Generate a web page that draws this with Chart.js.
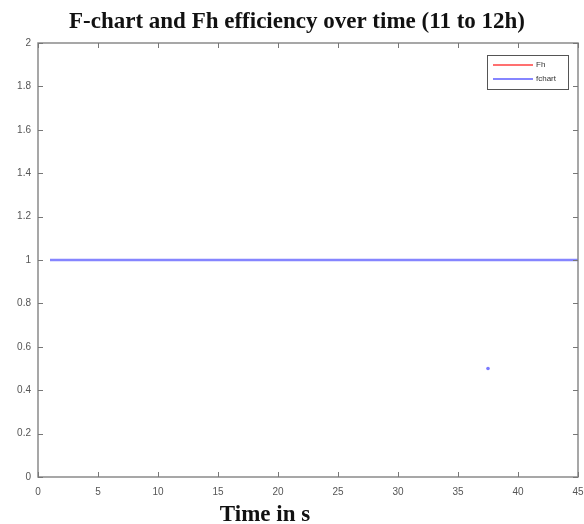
<!DOCTYPE html>
<html><head><meta charset="utf-8">
<script src="https://cdn.jsdelivr.net/npm/chart.js@4.4.1/dist/chart.umd.min.js"></script>
<style>html,body{margin:0;padding:0;background:#fff}#wrap{width:584px;height:524px}</style>
</head><body><div id="wrap"><canvas id="c" width="584" height="524"></canvas></div>
<script>
const chartTitle = 'F-chart and Fh efficiency over time (11 to 12h)';
const xAxisTitle = 'Time in s';
const timeS = [1, 45];
const fhValues = [1, 1];
const fchartValues = [1, 1];
const outlierTime = [37.5];
const outlierValues = [0.5];
const xTicks = [0,5,10,15,20,25,30,35,40,45];
const yTicks = [0,0.2,0.4,0.6,0.8,1,1.2,1.4,1.6,1.8,2];

const toPts = (xs, ys) => xs.map((x,i)=>({x, y: ys[i]}));

const boxPlugin = {
  id: 'boxTicks',
  afterDraw(chart) {
    const {ctx, chartArea: a, scales: {x, y}} = chart;
    ctx.save();
    ctx.strokeStyle = '#8a8a8a';
    ctx.lineWidth = 1.5;
    ctx.strokeRect(a.left, a.top, a.right - a.left, a.bottom - a.top);
    ctx.lineWidth = 1;
    ctx.strokeStyle = '#777';
    const L = 5;
    xTicks.forEach(v => {
      const px = Math.round(x.getPixelForValue(v)) + 0.5;
      ctx.beginPath(); ctx.moveTo(px, a.bottom); ctx.lineTo(px, a.bottom - L); ctx.stroke();
      ctx.beginPath(); ctx.moveTo(px, a.top); ctx.lineTo(px, a.top + L); ctx.stroke();
    });
    yTicks.forEach(v => {
      const py = Math.round(y.getPixelForValue(v)) + 0.5;
      ctx.beginPath(); ctx.moveTo(a.left, py); ctx.lineTo(a.left + L, py); ctx.stroke();
      ctx.beginPath(); ctx.moveTo(a.right, py); ctx.lineTo(a.right - L, py); ctx.stroke();
    });
    // legend box
    const bx = 487, by = 55, bw = 81, bh = 34;
    ctx.fillStyle = '#fff';
    ctx.fillRect(bx, by, bw, bh);
    ctx.strokeStyle = '#555';
    ctx.lineWidth = 1;
    ctx.strokeRect(bx + 0.5, by + 0.5, bw, bh);
    const items = [{c: '#ff7070', t: 'Fh'}, {c: '#8585ff', t: 'fchart'}];
    ctx.font = '8px "Liberation Sans", Arial, sans-serif';
    ctx.textBaseline = 'middle';
    ctx.textAlign = 'left';
    items.forEach((it, i) => {
      const yy = by + 10 + i * 14;
      ctx.strokeStyle = it.c; ctx.lineWidth = 2;
      ctx.beginPath(); ctx.moveTo(bx + 6, yy); ctx.lineTo(bx + 46, yy); ctx.stroke();
      ctx.fillStyle = '#333';
      ctx.fillText(it.t, bx + 49, yy);
    });
    // titles
    ctx.fillStyle = '#111';
    ctx.textAlign = 'center';
    ctx.textBaseline = 'alphabetic';
    ctx.font = 'bold 23px "Liberation Serif", "Times New Roman", serif';
    ctx.fillText(chartTitle, 297, 28);
    ctx.fillText(xAxisTitle, 265, 521);
    ctx.restore();
  }
};

new Chart(document.getElementById('c'), {
  type: 'line',
  data: {
    datasets: [
      {label: 'Fh', data: toPts(timeS, fhValues), borderColor: '#ff7070', borderWidth: 2, pointRadius: 0, order: 3},
      {label: 'fchart', data: toPts(timeS, fchartValues), borderColor: '#8585ff', borderWidth: 2.5, pointRadius: 0, order: 2},
      {label: 'fchart', data: toPts(outlierTime, outlierValues), showLine: false, pointRadius: 1.8, pointBorderWidth: 0, pointBackgroundColor: '#7a7aff', borderColor: '#7a7aff', order: 1}
    ]
  },
  options: {
    responsive: false,
    animation: false,
    layout: {padding: {left: 0, right: 6, top: 43, bottom: 0}},
    plugins: {
      legend: {display: false},
      tooltip: {enabled: false},
      title: {display: false}
    },
    scales: {
      x: {
        type: 'linear', min: 0, max: 45,
        afterBuildTicks: s => { s.ticks = xTicks.map(v => ({value: v})); },
        afterFit: s => { s.height = 47; s.paddingLeft = 0; s.paddingRight = 0; },
        grid: {display: false, drawTicks: false},
        border: {display: false},
        ticks: {color: '#555', font: {family: '"Liberation Sans", Arial, sans-serif', size: 10}, padding: 9, maxRotation: 0,
                callback: v => String(v)}
      },
      y: {
        type: 'linear', min: 0, max: 2,
        afterBuildTicks: s => { s.ticks = yTicks.map(v => ({value: v})); },
        afterFit: s => { s.width = 38; s.paddingTop = 0; s.paddingBottom = 0; },
        grid: {display: false, drawTicks: false},
        border: {display: false},
        ticks: {color: '#555', font: {family: '"Liberation Sans", Arial, sans-serif', size: 10}, padding: 7,
                callback: v => String(Math.round(v * 10) / 10)}
      }
    }
  },
  plugins: [boxPlugin]
});
</script></body></html>
